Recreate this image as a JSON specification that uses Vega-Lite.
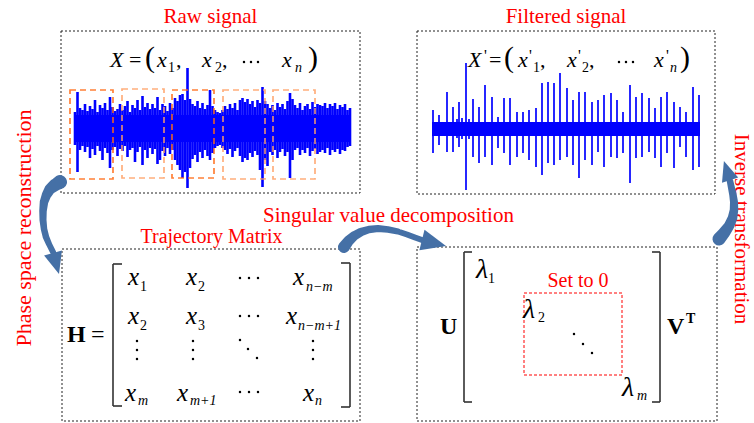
{
  "$schema": "https://vega.github.io/schema/vega-lite/v6.json",
  "width": 754,
  "height": 423,
  "padding": 0,
  "autosize": {"type": "none"},
  "background": "white",
  "config": {"view": {"stroke": null}},
  "datasets": {
    "frames": [
      {"x": 61, "x2": 360, "y": 31, "y2": 193},
      {"x": 417, "x2": 715, "y": 31, "y2": 194},
      {"x": 62, "x2": 360, "y": 249, "y2": 421},
      {"x": 417, "x2": 717, "y": 247, "y2": 421}
    ],
    "windowsDark": [
      {"x": 70, "x2": 113, "y": 90, "y2": 179},
      {"x": 172, "x2": 214, "y": 90, "y2": 178}
    ],
    "windowsLight": [
      {"x": 122, "x2": 164, "y": 89, "y2": 178},
      {"x": 223, "x2": 265, "y": 90, "y2": 179},
      {"x": 273, "x2": 315, "y": 90, "y2": 179}
    ],
    "zeroBlock": [{"x": 524, "x2": 622, "y": 293, "y2": 375}],
    "rawCore": [{"x": 75, "x2": 350, "y": 115, "y2": 142}],
    "rawTrace": [
      {"x": 75, "y": 112, "y2": 145}, {"x": 77.5, "y": 92, "y2": 172}, {"x": 80, "y": 108, "y2": 150},
      {"x": 82.5, "y": 110, "y2": 146}, {"x": 85, "y": 104, "y2": 152}, {"x": 87.5, "y": 111, "y2": 147},
      {"x": 90, "y": 106, "y2": 158}, {"x": 92.5, "y": 109, "y2": 149}, {"x": 95, "y": 100, "y2": 155},
      {"x": 97.5, "y": 112, "y2": 146}, {"x": 100, "y": 105, "y2": 151}, {"x": 102.5, "y": 108, "y2": 160},
      {"x": 105, "y": 103, "y2": 148}, {"x": 107.5, "y": 110, "y2": 153}, {"x": 110, "y": 97, "y2": 168},
      {"x": 112.5, "y": 107, "y2": 150}, {"x": 115, "y": 111, "y2": 147}, {"x": 117.5, "y": 109, "y2": 156},
      {"x": 120, "y": 104, "y2": 149}, {"x": 122.5, "y": 110, "y2": 151}, {"x": 125, "y": 106, "y2": 146},
      {"x": 127.5, "y": 101, "y2": 157}, {"x": 130, "y": 112, "y2": 150}, {"x": 132.5, "y": 105, "y2": 148},
      {"x": 135, "y": 108, "y2": 162}, {"x": 137.5, "y": 100, "y2": 152}, {"x": 140, "y": 110, "y2": 147},
      {"x": 142.5, "y": 96, "y2": 165}, {"x": 145, "y": 107, "y2": 150}, {"x": 147.5, "y": 103, "y2": 158},
      {"x": 150, "y": 109, "y2": 148}, {"x": 152.5, "y": 104, "y2": 154}, {"x": 155, "y": 108, "y2": 149},
      {"x": 157.5, "y": 97, "y2": 164}, {"x": 160, "y": 110, "y2": 160}, {"x": 162.5, "y": 104, "y2": 151},
      {"x": 165, "y": 106, "y2": 156}, {"x": 167.5, "y": 111, "y2": 148}, {"x": 170, "y": 103, "y2": 154},
      {"x": 172.5, "y": 108, "y2": 150}, {"x": 175, "y": 98, "y2": 160}, {"x": 177.5, "y": 101, "y2": 165},
      {"x": 180, "y": 95, "y2": 170}, {"x": 182.5, "y": 94, "y2": 178}, {"x": 185, "y": 100, "y2": 172},
      {"x": 187.5, "y": 68, "y2": 188}, {"x": 190, "y": 99, "y2": 168}, {"x": 192.5, "y": 104, "y2": 159},
      {"x": 195, "y": 106, "y2": 155}, {"x": 197.5, "y": 101, "y2": 162}, {"x": 200, "y": 108, "y2": 152},
      {"x": 202.5, "y": 103, "y2": 158}, {"x": 205, "y": 109, "y2": 150}, {"x": 207.5, "y": 105, "y2": 156},
      {"x": 210, "y": 90, "y2": 160}, {"x": 212.5, "y": 106, "y2": 153}, {"x": 215, "y": 110, "y2": 148},
      {"x": 217.5, "y": 112, "y2": 146}, {"x": 220, "y": 113, "y2": 145}, {"x": 222.5, "y": 110, "y2": 148},
      {"x": 225, "y": 106, "y2": 150}, {"x": 227.5, "y": 109, "y2": 154}, {"x": 230, "y": 104, "y2": 149},
      {"x": 232.5, "y": 108, "y2": 157}, {"x": 235, "y": 103, "y2": 151}, {"x": 237.5, "y": 110, "y2": 148},
      {"x": 240, "y": 100, "y2": 156}, {"x": 242.5, "y": 98, "y2": 162}, {"x": 245, "y": 102, "y2": 158},
      {"x": 247.5, "y": 99, "y2": 160}, {"x": 250, "y": 104, "y2": 153}, {"x": 252.5, "y": 101, "y2": 157},
      {"x": 255, "y": 107, "y2": 151}, {"x": 257.5, "y": 100, "y2": 155}, {"x": 260, "y": 103, "y2": 170},
      {"x": 262.5, "y": 87, "y2": 187}, {"x": 265, "y": 101, "y2": 160}, {"x": 267.5, "y": 104, "y2": 166},
      {"x": 270, "y": 108, "y2": 152}, {"x": 272.5, "y": 105, "y2": 155}, {"x": 275, "y": 110, "y2": 150},
      {"x": 277.5, "y": 103, "y2": 158}, {"x": 280, "y": 107, "y2": 152}, {"x": 282.5, "y": 104, "y2": 149},
      {"x": 285, "y": 109, "y2": 156}, {"x": 287.5, "y": 101, "y2": 152}, {"x": 290, "y": 93, "y2": 178},
      {"x": 292.5, "y": 99, "y2": 160}, {"x": 295, "y": 105, "y2": 150}, {"x": 297.5, "y": 108, "y2": 148},
      {"x": 300, "y": 103, "y2": 155}, {"x": 302.5, "y": 110, "y2": 150}, {"x": 305, "y": 106, "y2": 153},
      {"x": 307.5, "y": 104, "y2": 148}, {"x": 310, "y": 109, "y2": 156}, {"x": 312.5, "y": 102, "y2": 151},
      {"x": 315, "y": 107, "y2": 149}, {"x": 317.5, "y": 104, "y2": 154}, {"x": 320, "y": 105, "y2": 152},
      {"x": 322.5, "y": 106, "y2": 150}, {"x": 325, "y": 103, "y2": 153}, {"x": 327.5, "y": 108, "y2": 148},
      {"x": 330, "y": 104, "y2": 155}, {"x": 332.5, "y": 106, "y2": 150}, {"x": 335, "y": 103, "y2": 152},
      {"x": 337.5, "y": 109, "y2": 149}, {"x": 340, "y": 105, "y2": 154}, {"x": 342.5, "y": 107, "y2": 150},
      {"x": 345, "y": 104, "y2": 151}, {"x": 347.5, "y": 110, "y2": 147}, {"x": 350, "y": 108, "y2": 146}
    ],
    "filteredCore": [{"x": 432, "x2": 700, "y": 122, "y2": 136}],
    "filteredTrace": [
      {"x": 433, "y": 110, "y2": 153}, {"x": 439, "y": 115, "y2": 145}, {"x": 447, "y": 92, "y2": 152},
      {"x": 453, "y": 107, "y2": 152}, {"x": 457, "y": 119, "y2": 138}, {"x": 459, "y": 102, "y2": 147},
      {"x": 462, "y": 118, "y2": 139}, {"x": 466, "y": 63, "y2": 190}, {"x": 469, "y": 119, "y2": 139},
      {"x": 473, "y": 99, "y2": 157}, {"x": 479, "y": 107, "y2": 163}, {"x": 485, "y": 85, "y2": 157},
      {"x": 492, "y": 97, "y2": 165}, {"x": 498, "y": 117, "y2": 148}, {"x": 504, "y": 98, "y2": 153},
      {"x": 510, "y": 98, "y2": 165}, {"x": 517, "y": 112, "y2": 157}, {"x": 523, "y": 112, "y2": 153},
      {"x": 529, "y": 110, "y2": 160}, {"x": 536, "y": 108, "y2": 167}, {"x": 542, "y": 83, "y2": 175},
      {"x": 548, "y": 82, "y2": 163}, {"x": 554, "y": 83, "y2": 165}, {"x": 560, "y": 73, "y2": 160},
      {"x": 567, "y": 88, "y2": 157}, {"x": 573, "y": 100, "y2": 165}, {"x": 579, "y": 92, "y2": 178},
      {"x": 585, "y": 92, "y2": 160}, {"x": 592, "y": 102, "y2": 165}, {"x": 598, "y": 100, "y2": 152},
      {"x": 604, "y": 95, "y2": 167}, {"x": 611, "y": 93, "y2": 157}, {"x": 617, "y": 100, "y2": 158},
      {"x": 623, "y": 112, "y2": 153}, {"x": 630, "y": 85, "y2": 183}, {"x": 636, "y": 97, "y2": 158},
      {"x": 642, "y": 93, "y2": 157}, {"x": 649, "y": 98, "y2": 152}, {"x": 655, "y": 108, "y2": 158},
      {"x": 661, "y": 97, "y2": 167}, {"x": 667, "y": 92, "y2": 153}, {"x": 674, "y": 102, "y2": 168},
      {"x": 680, "y": 107, "y2": 147}, {"x": 686, "y": 112, "y2": 157}, {"x": 693, "y": 87, "y2": 170},
      {"x": 699, "y": 95, "y2": 167}
    ],
    "brackets": [
      {"x": 113, "y": 264, "x2": 113, "y2": 406}, {"x": 113, "y": 264, "x2": 122, "y2": 264}, {"x": 113, "y": 406, "x2": 122, "y2": 406},
      {"x": 350, "y": 263, "x2": 350, "y2": 407}, {"x": 341, "y": 263, "x2": 350, "y2": 263}, {"x": 341, "y": 407, "x2": 350, "y2": 407},
      {"x": 464, "y": 252, "x2": 464, "y2": 402}, {"x": 464, "y": 252, "x2": 472, "y2": 252}, {"x": 464, "y": 402, "x2": 472, "y2": 402},
      {"x": 660, "y": 252, "x2": 660, "y2": 402}, {"x": 652, "y": 252, "x2": 660, "y2": 252}, {"x": 652, "y": 402, "x2": 660, "y2": 402}
    ],
    "dots": [
      {"x": 244, "y": 62}, {"x": 251, "y": 62}, {"x": 258, "y": 62},
      {"x": 619, "y": 62}, {"x": 626, "y": 62}, {"x": 633, "y": 62},
      {"x": 240, "y": 278}, {"x": 249, "y": 278}, {"x": 258, "y": 278},
      {"x": 240, "y": 316}, {"x": 249, "y": 316}, {"x": 258, "y": 316},
      {"x": 240, "y": 392}, {"x": 249, "y": 392}, {"x": 258, "y": 392},
      {"x": 137, "y": 341}, {"x": 137, "y": 350}, {"x": 137, "y": 359},
      {"x": 193, "y": 341}, {"x": 193, "y": 350}, {"x": 193, "y": 359},
      {"x": 313, "y": 341}, {"x": 313, "y": 350}, {"x": 313, "y": 359},
      {"x": 240, "y": 340}, {"x": 248, "y": 349}, {"x": 257, "y": 358},
      {"x": 574, "y": 334}, {"x": 583, "y": 344}, {"x": 592, "y": 353}
    ],
    "titles": [
      {"x": 210.5, "y": 23, "t": "Raw signal"},
      {"x": 566, "y": 23, "t": "Filtered signal"},
      {"x": 388.5, "y": 222, "t": "Singular value decomposition"}
    ],
    "labels": [
      {"x": 211.5, "y": 243, "t": "Trajectory Matrix"},
      {"x": 578, "y": 287, "t": "Set to 0"}
    ],
    "sideLeft": [{"x": 24, "y": 228, "t": "Phase space reconstruction"}],
    "sideRight": [{"x": 741, "y": 229, "t": "Inverse transformation"}],
    "eqVars": [
      {"x": 110, "y": 67, "t": "X"}, {"x": 157, "y": 67, "t": "x"}, {"x": 202, "y": 67, "t": "x"}, {"x": 282, "y": 67, "t": "x"},
      {"x": 468, "y": 67, "t": "X"}, {"x": 518, "y": 67, "t": "x"}, {"x": 567, "y": 67, "t": "x"}, {"x": 654, "y": 67, "t": "x"}
    ],
    "eqSigns": [
      {"x": 129, "y": 67, "t": "="}, {"x": 176, "y": 67, "t": ","}, {"x": 222, "y": 67, "t": ","},
      {"x": 489, "y": 67, "t": "="}, {"x": 540, "y": 67, "t": ","}, {"x": 589, "y": 67, "t": ","}
    ],
    "parens": [
      {"x": 145, "y": 67, "t": "("}, {"x": 308, "y": 67, "t": ")"},
      {"x": 504, "y": 67, "t": "("}, {"x": 680, "y": 67, "t": ")"}
    ],
    "primes": [
      {"x": 484, "y": 61, "t": "'"}, {"x": 529, "y": 61, "t": "'"}, {"x": 578, "y": 61, "t": "'"}, {"x": 666, "y": 61, "t": "'"}
    ],
    "subDigits": [
      {"x": 168, "y": 72, "t": "1"}, {"x": 215, "y": 72, "t": "2"},
      {"x": 533, "y": 72, "t": "1"}, {"x": 582, "y": 72, "t": "2"},
      {"x": 140, "y": 291, "t": "1"}, {"x": 198, "y": 291, "t": "2"},
      {"x": 140, "y": 330, "t": "2"}, {"x": 198, "y": 330, "t": "3"},
      {"x": 488, "y": 283, "t": "1"}, {"x": 538, "y": 322, "t": "2"}
    ],
    "subLetters": [
      {"x": 295, "y": 72, "t": "n"}, {"x": 670, "y": 72, "t": "n"},
      {"x": 306, "y": 291, "t": "n−m"}, {"x": 298, "y": 330, "t": "n−m+1"},
      {"x": 138, "y": 405, "t": "m"}, {"x": 190, "y": 405, "t": "m+1"}, {"x": 315, "y": 405, "t": "n"},
      {"x": 637, "y": 400, "t": "m"}
    ],
    "matrixVars": [
      {"x": 128, "y": 285, "t": "x"}, {"x": 186, "y": 285, "t": "x"}, {"x": 293, "y": 285, "t": "x"},
      {"x": 128, "y": 324, "t": "x"}, {"x": 186, "y": 324, "t": "x"}, {"x": 286, "y": 324, "t": "x"},
      {"x": 125, "y": 401, "t": "x"}, {"x": 177, "y": 401, "t": "x"}, {"x": 303, "y": 401, "t": "x"}
    ],
    "lambdas": [
      {"x": 476, "y": 278, "t": "λ"}, {"x": 523, "y": 318, "t": "λ"}, {"x": 622, "y": 396, "t": "λ"}
    ],
    "boldSymbols": [
      {"x": 67, "y": 342, "t": "H"}, {"x": 440, "y": 334, "t": "U"}, {"x": 667, "y": 334, "t": "V"}
    ],
    "boldSup": [{"x": 686, "y": 323, "t": "T"}],
    "matrixEq": [{"x": 91, "y": 342, "t": "="}],
    "arrowBodies": [
      {"arrow": "left", "i": 0, "x": 60, "y": 182, "w": 14},
      {"arrow": "left", "i": 1, "x": 55, "y": 185, "w": 12.5},
      {"arrow": "left", "i": 2, "x": 50, "y": 189, "w": 11},
      {"arrow": "left", "i": 3, "x": 46.5, "y": 195, "w": 9.5},
      {"arrow": "left", "i": 4, "x": 44, "y": 202, "w": 8.5},
      {"arrow": "left", "i": 5, "x": 43, "y": 211, "w": 7.5},
      {"arrow": "left", "i": 6, "x": 43, "y": 220, "w": 7},
      {"arrow": "left", "i": 7, "x": 44, "y": 229, "w": 6.5},
      {"arrow": "left", "i": 8, "x": 46, "y": 237, "w": 6.5},
      {"arrow": "left", "i": 9, "x": 49, "y": 244, "w": 6},
      {"arrow": "left", "i": 10, "x": 53, "y": 252, "w": 6},
      {"arrow": "mid", "i": 0, "x": 344, "y": 247, "w": 12},
      {"arrow": "mid", "i": 1, "x": 348.5, "y": 241, "w": 10.5},
      {"arrow": "mid", "i": 2, "x": 354, "y": 236, "w": 9.5},
      {"arrow": "mid", "i": 3, "x": 361, "y": 232, "w": 8.5},
      {"arrow": "mid", "i": 4, "x": 369, "y": 229.5, "w": 7.5},
      {"arrow": "mid", "i": 5, "x": 378, "y": 228.5, "w": 7},
      {"arrow": "mid", "i": 6, "x": 388, "y": 229.5, "w": 6.5},
      {"arrow": "mid", "i": 7, "x": 398, "y": 231.5, "w": 6},
      {"arrow": "mid", "i": 8, "x": 407, "y": 234.5, "w": 6},
      {"arrow": "mid", "i": 9, "x": 415, "y": 237.5, "w": 6},
      {"arrow": "mid", "i": 10, "x": 422, "y": 240, "w": 6},
      {"arrow": "right", "i": 0, "x": 719, "y": 239, "w": 13},
      {"arrow": "right", "i": 1, "x": 724, "y": 233, "w": 12},
      {"arrow": "right", "i": 2, "x": 729, "y": 226, "w": 10.5},
      {"arrow": "right", "i": 3, "x": 732.5, "y": 218, "w": 9.5},
      {"arrow": "right", "i": 4, "x": 734, "y": 210, "w": 8.5},
      {"arrow": "right", "i": 5, "x": 734, "y": 202, "w": 8},
      {"arrow": "right", "i": 6, "x": 733, "y": 195, "w": 7.5},
      {"arrow": "right", "i": 7, "x": 731.5, "y": 188, "w": 7},
      {"arrow": "right", "i": 8, "x": 730, "y": 181, "w": 6.5}
    ],
    "headLeft": [{"x": 56, "y": 263.5}],
    "headMid": [{"x": 434, "y": 243}],
    "headRight": [{"x": 727, "y": 170.5}]
  },
  "layer": [
    {
      "data": {"name": "frames"},
      "mark": {"type": "rect", "fill": null, "filled": false, "stroke": "#222222", "strokeWidth": 1, "strokeDash": [2, 2]},
      "encoding": {
        "x": {"field": "x", "type": "quantitative", "scale": {"domain": [0, 754], "nice": false, "zero": false}, "axis": null},
        "x2": {"field": "x2"},
        "y": {"field": "y", "type": "quantitative", "scale": {"domain": [0, 423], "nice": false, "zero": false, "reverse": true}, "axis": null},
        "y2": {"field": "y2"}
      }
    },
    {
      "data": {"name": "rawCore"},
      "mark": {"type": "rect", "color": "#0000FF"},
      "encoding": {
        "x": {"field": "x", "type": "quantitative", "axis": null}, "x2": {"field": "x2"},
        "y": {"field": "y", "type": "quantitative", "axis": null}, "y2": {"field": "y2"}
      }
    },
    {
      "data": {"name": "rawTrace"},
      "mark": {"type": "rule", "color": "#0000FF", "strokeWidth": 2.6},
      "encoding": {
        "x": {"field": "x", "type": "quantitative", "axis": null},
        "y": {"field": "y", "type": "quantitative", "axis": null}, "y2": {"field": "y2"}
      }
    },
    {
      "data": {"name": "windowsDark"},
      "mark": {"type": "rect", "fill": null, "filled": false, "stroke": "#FF6A13", "strokeOpacity": 0.85, "strokeWidth": 1.7, "strokeDash": [6, 4]},
      "encoding": {
        "x": {"field": "x", "type": "quantitative", "axis": null}, "x2": {"field": "x2"},
        "y": {"field": "y", "type": "quantitative", "axis": null}, "y2": {"field": "y2"}
      }
    },
    {
      "data": {"name": "windowsLight"},
      "mark": {"type": "rect", "fill": null, "filled": false, "stroke": "#FFA064", "strokeOpacity": 0.85, "strokeWidth": 1.7, "strokeDash": [6, 4]},
      "encoding": {
        "x": {"field": "x", "type": "quantitative", "axis": null}, "x2": {"field": "x2"},
        "y": {"field": "y", "type": "quantitative", "axis": null}, "y2": {"field": "y2"}
      }
    },
    {
      "data": {"name": "filteredCore"},
      "mark": {"type": "rect", "color": "#0000FF"},
      "encoding": {
        "x": {"field": "x", "type": "quantitative", "axis": null}, "x2": {"field": "x2"},
        "y": {"field": "y", "type": "quantitative", "axis": null}, "y2": {"field": "y2"}
      }
    },
    {
      "data": {"name": "filteredTrace"},
      "mark": {"type": "rule", "color": "#0000FF", "strokeWidth": 1.7},
      "encoding": {
        "x": {"field": "x", "type": "quantitative", "axis": null},
        "y": {"field": "y", "type": "quantitative", "axis": null}, "y2": {"field": "y2"}
      }
    },
    {
      "data": {"name": "zeroBlock"},
      "mark": {"type": "rect", "fill": null, "filled": false, "stroke": "#FF0000", "strokeWidth": 1, "strokeDash": [3, 2]},
      "encoding": {
        "x": {"field": "x", "type": "quantitative", "axis": null}, "x2": {"field": "x2"},
        "y": {"field": "y", "type": "quantitative", "axis": null}, "y2": {"field": "y2"}
      }
    },
    {
      "data": {"name": "brackets"},
      "mark": {"type": "rule", "color": "#333333", "strokeWidth": 1.6},
      "encoding": {
        "x": {"field": "x", "type": "quantitative", "axis": null}, "x2": {"field": "x2"},
        "y": {"field": "y", "type": "quantitative", "axis": null}, "y2": {"field": "y2"}
      }
    },
    {
      "data": {"name": "dots"},
      "mark": {"type": "circle", "color": "#000000", "size": 6, "opacity": 1},
      "encoding": {
        "x": {"field": "x", "type": "quantitative", "axis": null},
        "y": {"field": "y", "type": "quantitative", "axis": null}
      }
    },
    {
      "data": {"name": "titles"},
      "mark": {"type": "text", "font": "Liberation Serif", "fontSize": 21, "color": "#FF0000", "align": "center", "baseline": "alphabetic"},
      "encoding": {
        "x": {"field": "x", "type": "quantitative", "axis": null},
        "y": {"field": "y", "type": "quantitative", "axis": null},
        "text": {"field": "t"}
      }
    },
    {
      "data": {"name": "labels"},
      "mark": {"type": "text", "font": "Liberation Serif", "fontSize": 20, "color": "#FF0000", "align": "center", "baseline": "alphabetic"},
      "encoding": {
        "x": {"field": "x", "type": "quantitative", "axis": null},
        "y": {"field": "y", "type": "quantitative", "axis": null},
        "text": {"field": "t"}
      }
    },
    {
      "data": {"name": "sideLeft"},
      "mark": {"type": "text", "font": "Liberation Serif", "fontSize": 22, "color": "#FF0000", "align": "center", "baseline": "middle", "angle": 270},
      "encoding": {
        "x": {"field": "x", "type": "quantitative", "axis": null},
        "y": {"field": "y", "type": "quantitative", "axis": null},
        "text": {"field": "t"}
      }
    },
    {
      "data": {"name": "sideRight"},
      "mark": {"type": "text", "font": "Liberation Serif", "fontSize": 21, "color": "#FF0000", "align": "center", "baseline": "middle", "angle": 90},
      "encoding": {
        "x": {"field": "x", "type": "quantitative", "axis": null},
        "y": {"field": "y", "type": "quantitative", "axis": null},
        "text": {"field": "t"}
      }
    },
    {
      "data": {"name": "eqVars"},
      "mark": {"type": "text", "font": "Liberation Serif", "fontStyle": "italic", "fontSize": 22, "color": "#000000", "align": "left", "baseline": "alphabetic"},
      "encoding": {
        "x": {"field": "x", "type": "quantitative", "axis": null},
        "y": {"field": "y", "type": "quantitative", "axis": null},
        "text": {"field": "t"}
      }
    },
    {
      "data": {"name": "eqSigns"},
      "mark": {"type": "text", "font": "Liberation Serif", "fontSize": 22, "color": "#000000", "align": "left", "baseline": "alphabetic"},
      "encoding": {
        "x": {"field": "x", "type": "quantitative", "axis": null},
        "y": {"field": "y", "type": "quantitative", "axis": null},
        "text": {"field": "t"}
      }
    },
    {
      "data": {"name": "parens"},
      "mark": {"type": "text", "font": "Liberation Serif", "fontSize": 30, "color": "#000000", "align": "left", "baseline": "alphabetic"},
      "encoding": {
        "x": {"field": "x", "type": "quantitative", "axis": null},
        "y": {"field": "y", "type": "quantitative", "axis": null},
        "text": {"field": "t"}
      }
    },
    {
      "data": {"name": "primes"},
      "mark": {"type": "text", "font": "Liberation Serif", "fontSize": 16, "color": "#000000", "align": "left", "baseline": "alphabetic"},
      "encoding": {
        "x": {"field": "x", "type": "quantitative", "axis": null},
        "y": {"field": "y", "type": "quantitative", "axis": null},
        "text": {"field": "t"}
      }
    },
    {
      "data": {"name": "subDigits"},
      "mark": {"type": "text", "font": "Liberation Serif", "fontSize": 14, "color": "#000000", "align": "left", "baseline": "alphabetic"},
      "encoding": {
        "x": {"field": "x", "type": "quantitative", "axis": null},
        "y": {"field": "y", "type": "quantitative", "axis": null},
        "text": {"field": "t"}
      }
    },
    {
      "data": {"name": "subLetters"},
      "mark": {"type": "text", "font": "Liberation Serif", "fontStyle": "italic", "fontSize": 14, "color": "#000000", "align": "left", "baseline": "alphabetic"},
      "encoding": {
        "x": {"field": "x", "type": "quantitative", "axis": null},
        "y": {"field": "y", "type": "quantitative", "axis": null},
        "text": {"field": "t"}
      }
    },
    {
      "data": {"name": "matrixVars"},
      "mark": {"type": "text", "font": "Liberation Serif", "fontStyle": "italic", "fontSize": 25, "color": "#000000", "align": "left", "baseline": "alphabetic"},
      "encoding": {
        "x": {"field": "x", "type": "quantitative", "axis": null},
        "y": {"field": "y", "type": "quantitative", "axis": null},
        "text": {"field": "t"}
      }
    },
    {
      "data": {"name": "lambdas"},
      "mark": {"type": "text", "font": "Liberation Serif", "fontStyle": "italic", "fontSize": 28, "color": "#000000", "align": "left", "baseline": "alphabetic"},
      "encoding": {
        "x": {"field": "x", "type": "quantitative", "axis": null},
        "y": {"field": "y", "type": "quantitative", "axis": null},
        "text": {"field": "t"}
      }
    },
    {
      "data": {"name": "boldSymbols"},
      "mark": {"type": "text", "font": "Liberation Serif", "fontWeight": "bold", "fontSize": 24, "color": "#000000", "align": "left", "baseline": "alphabetic"},
      "encoding": {
        "x": {"field": "x", "type": "quantitative", "axis": null},
        "y": {"field": "y", "type": "quantitative", "axis": null},
        "text": {"field": "t"}
      }
    },
    {
      "data": {"name": "boldSup"},
      "mark": {"type": "text", "font": "Liberation Serif", "fontWeight": "bold", "fontSize": 14, "color": "#000000", "align": "left", "baseline": "alphabetic"},
      "encoding": {
        "x": {"field": "x", "type": "quantitative", "axis": null},
        "y": {"field": "y", "type": "quantitative", "axis": null},
        "text": {"field": "t"}
      }
    },
    {
      "data": {"name": "matrixEq"},
      "mark": {"type": "text", "font": "Liberation Serif", "fontSize": 24, "color": "#000000", "align": "left", "baseline": "alphabetic"},
      "encoding": {
        "x": {"field": "x", "type": "quantitative", "axis": null},
        "y": {"field": "y", "type": "quantitative", "axis": null},
        "text": {"field": "t"}
      }
    },
    {
      "data": {"name": "arrowBodies"},
      "mark": {"type": "trail", "color": "#4570A6"},
      "encoding": {
        "x": {"field": "x", "type": "quantitative", "axis": null},
        "y": {"field": "y", "type": "quantitative", "axis": null},
        "size": {"field": "w", "type": "quantitative", "scale": null},
        "detail": {"field": "arrow"},
        "order": {"field": "i"}
      }
    },
    {
      "data": {"name": "headLeft"},
      "mark": {"type": "point", "shape": "M0,-1L0.85,1L-0.85,1Z", "filled": true, "color": "#4570A6", "opacity": 1, "size": 475, "angle": 164},
      "encoding": {
        "x": {"field": "x", "type": "quantitative", "axis": null},
        "y": {"field": "y", "type": "quantitative", "axis": null}
      }
    },
    {
      "data": {"name": "headMid"},
      "mark": {"type": "point", "shape": "M0,-1L0.85,1L-0.85,1Z", "filled": true, "color": "#4570A6", "opacity": 1, "size": 615, "angle": 104},
      "encoding": {
        "x": {"field": "x", "type": "quantitative", "axis": null},
        "y": {"field": "y", "type": "quantitative", "axis": null}
      }
    },
    {
      "data": {"name": "headRight"},
      "mark": {"type": "point", "shape": "M0,-1L0.85,1L-0.85,1Z", "filled": true, "color": "#4570A6", "opacity": 1, "size": 400, "angle": 342},
      "encoding": {
        "x": {"field": "x", "type": "quantitative", "axis": null},
        "y": {"field": "y", "type": "quantitative", "axis": null}
      }
    }
  ]
}
